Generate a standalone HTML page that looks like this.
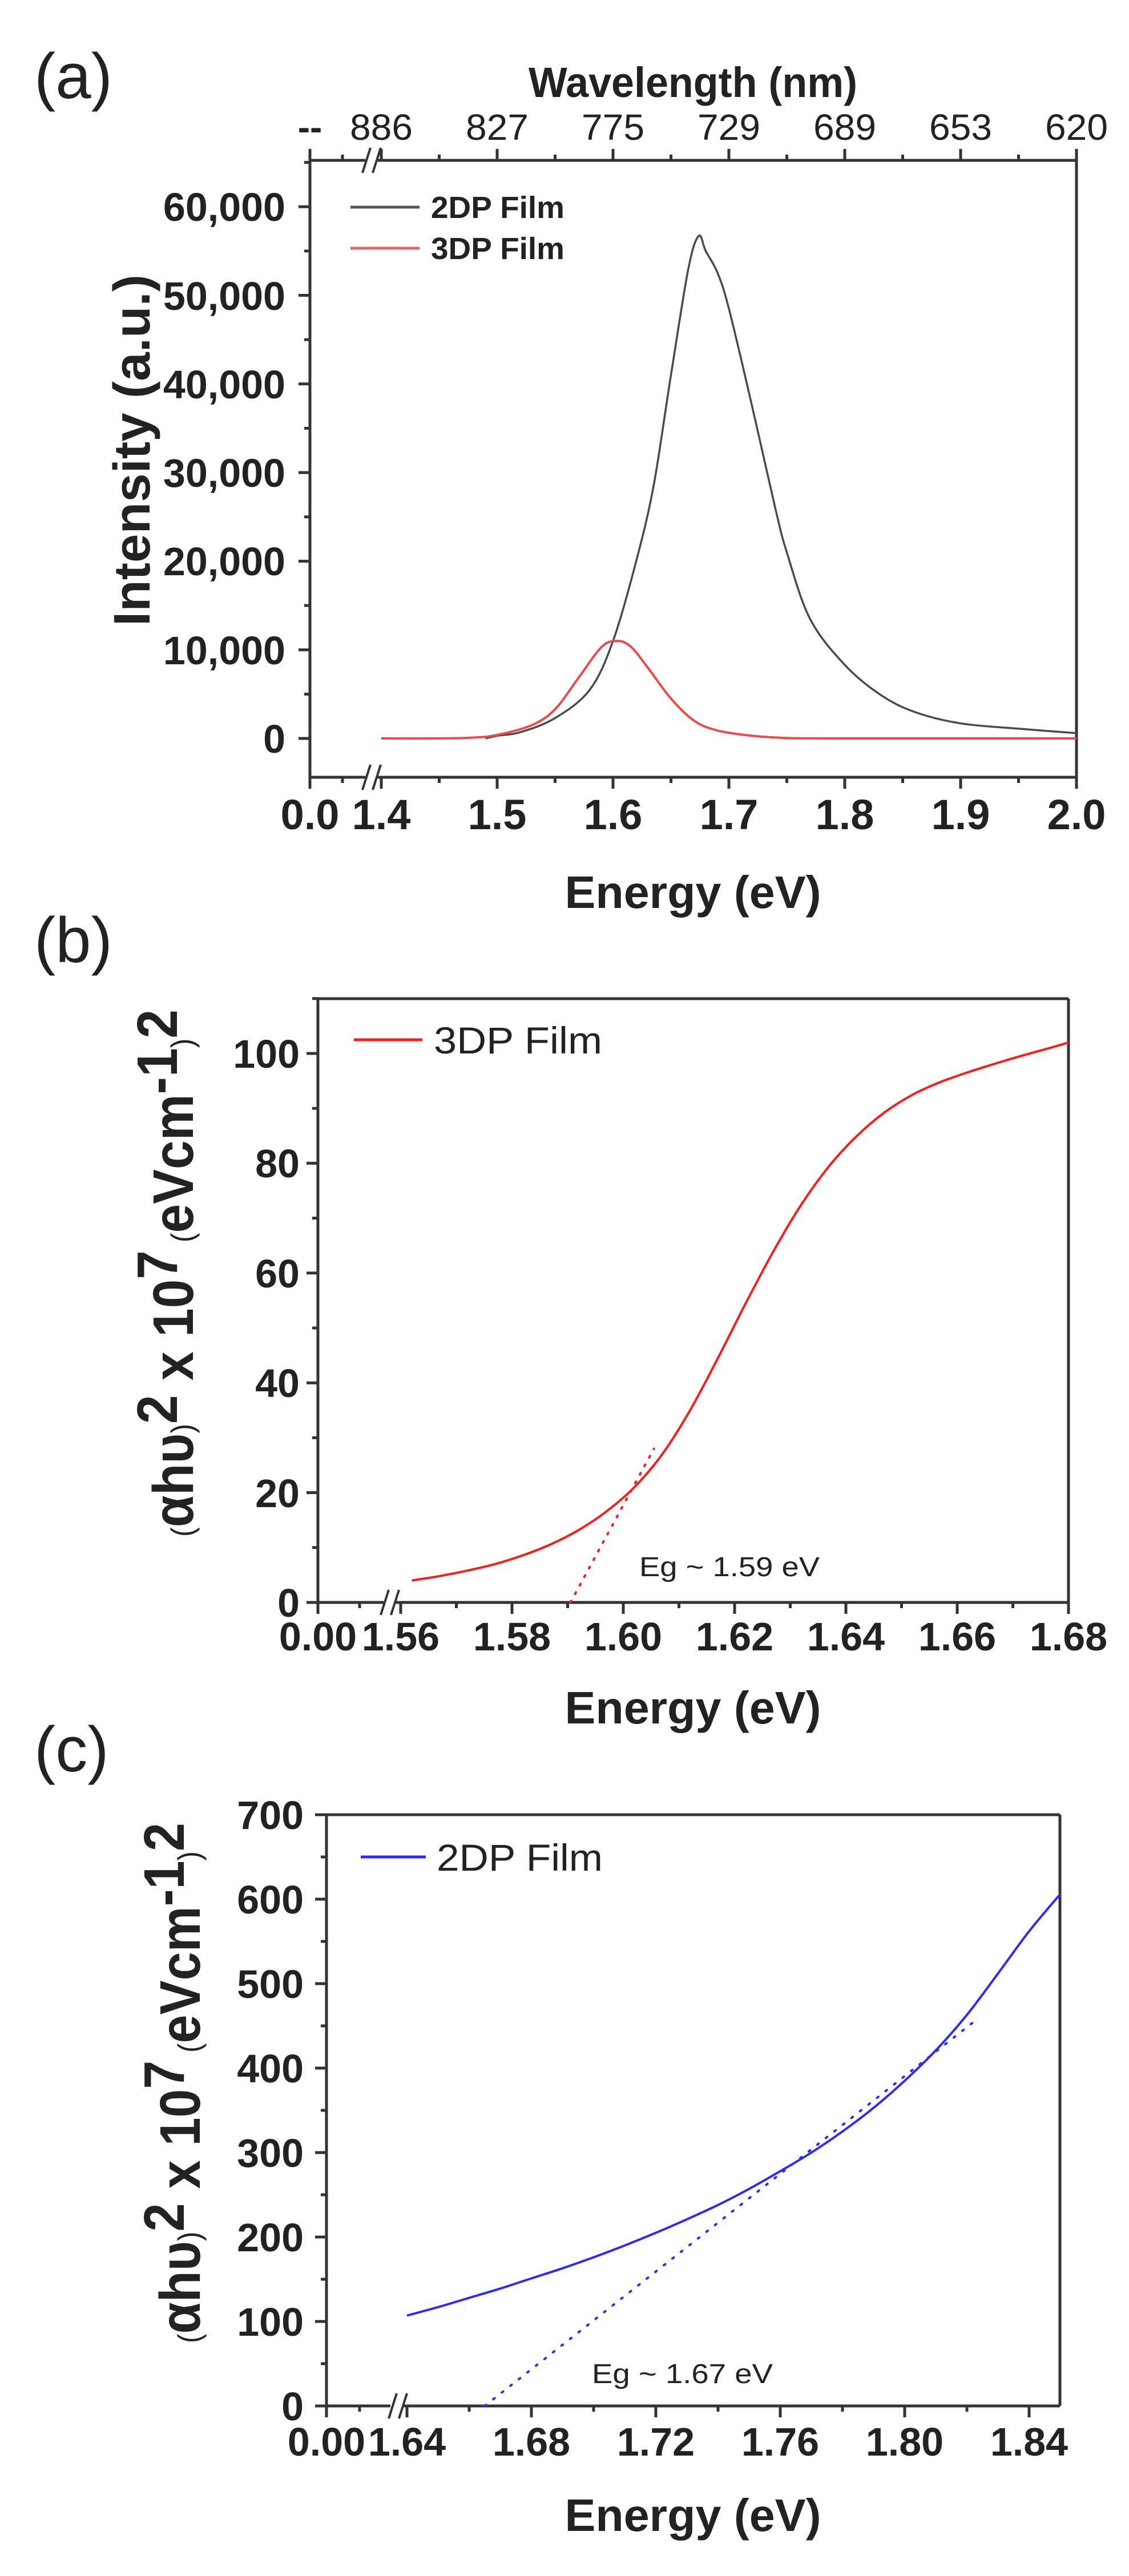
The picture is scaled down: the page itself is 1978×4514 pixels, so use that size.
<!DOCTYPE html>
<html><head><meta charset="utf-8"><style>
html,body{margin:0;padding:0;background:#fff;}
svg{display:block;}
text{font-family:"Liberation Sans",Arial,sans-serif;fill:#222;}
.tk{font-weight:bold;font-size:70px;}
.ti{font-weight:bold;font-size:80px;}
.pl{font-family:"Liberation Sans",sans-serif;font-size:112px;fill:#222;}
</style></head><body>
<svg id="s" width="1978" height="4514" viewBox="0 0 1978 4514" xmlns="http://www.w3.org/2000/svg">
<rect width="1978" height="4514" fill="#fff"/>
<text class="pl" x="60" y="172">(a)</text>
<text class="pl" x="60" y="1686">(b)</text>
<text class="pl" x="60" y="3104">(c)</text>

<text class="ti" x="1214" y="170" text-anchor="middle" textLength="576" lengthAdjust="spacingAndGlyphs" style="font-size:74px">Wavelength (nm)</text>
<g class="tk" text-anchor="middle" style="font-size:64px;font-weight:normal">
<text x="543" y="245" style="font-weight:bold">--</text>
<text x="668" y="245" textLength="110" lengthAdjust="spacingAndGlyphs">886</text>
<text x="871" y="245" textLength="110" lengthAdjust="spacingAndGlyphs">827</text>
<text x="1074" y="245" textLength="110" lengthAdjust="spacingAndGlyphs">775</text>
<text x="1277" y="245" textLength="110" lengthAdjust="spacingAndGlyphs">729</text>
<text x="1480" y="245" textLength="110" lengthAdjust="spacingAndGlyphs">689</text>
<text x="1683" y="245" textLength="110" lengthAdjust="spacingAndGlyphs">653</text>
<text x="1886" y="245" textLength="110" lengthAdjust="spacingAndGlyphs">620</text>
</g>
<g class="tk" text-anchor="end">
<text x="500" y="1319">0</text>
<text x="500" y="1164">10,000</text>
<text x="500" y="1008">20,000</text>
<text x="500" y="853">30,000</text>
<text x="500" y="698">40,000</text>
<text x="500" y="543">50,000</text>
<text x="500" y="387">60,000</text>
</g>
<g class="tk" text-anchor="middle" style="font-size:74px">
<text x="543" y="1453">0.0</text>
<text x="668" y="1453">1.4</text>
<text x="871" y="1453">1.5</text>
<text x="1074" y="1453">1.6</text>
<text x="1277" y="1453">1.7</text>
<text x="1480" y="1453">1.8</text>
<text x="1683" y="1453">1.9</text>
<text x="1886" y="1453">2.0</text>
</g>
<text class="ti" transform="translate(262,789) rotate(-90)" text-anchor="middle" textLength="616" lengthAdjust="spacingAndGlyphs" style="font-size:90px">Intensity (a.u.)</text>
<text class="ti" x="1214" y="1591" text-anchor="middle" textLength="449" lengthAdjust="spacingAndGlyphs">Energy (eV)</text>
<line x1="614" y1="363" x2="735" y2="363" stroke="#555" stroke-width="5"/>
<line x1="614" y1="435" x2="735" y2="435" stroke="#f26060" stroke-width="5"/>
<text x="755" y="382" style="font-weight:bold;font-size:54px" textLength="234" lengthAdjust="spacingAndGlyphs">2DP Film</text>
<text x="755" y="454" style="font-weight:bold;font-size:54px" textLength="234" lengthAdjust="spacingAndGlyphs">3DP Film</text>

<g class="tk" text-anchor="end">
<text x="525" y="2833">0</text>
<text x="525" y="2641">20</text>
<text x="525" y="2448">40</text>
<text x="525" y="2256">60</text>
<text x="525" y="2063">80</text>
<text x="525" y="1871">100</text>
</g>
<g class="tk" text-anchor="middle">
<text x="557" y="2892">0.00</text>
<text x="702" y="2892">1.56</text>
<text x="897" y="2892">1.58</text>
<text x="1092" y="2892">1.60</text>
<text x="1287" y="2892">1.62</text>
<text x="1482" y="2892">1.64</text>
<text x="1677" y="2892">1.66</text>
<text x="1872" y="2892">1.68</text>
</g>
<text class="ti" x="1214" y="3020" text-anchor="middle" textLength="449" lengthAdjust="spacingAndGlyphs">Energy (eV)</text>
<text class="ti" transform="translate(338,2231) rotate(-90)" text-anchor="middle" textLength="924" lengthAdjust="spacingAndGlyphs" style="font-size:100px"><tspan style="font-size:55px;font-weight:normal">(</tspan>αhυ<tspan style="font-size:55px;font-weight:normal">)</tspan><tspan dy="-28">2</tspan><tspan dy="28"> x 10</tspan><tspan dy="-28">7</tspan><tspan dy="28" style="font-size:55px;font-weight:normal"> (</tspan>eVcm<tspan dy="-28">-1</tspan><tspan dy="28" style="font-size:55px;font-weight:normal">)</tspan><tspan dy="-28">2</tspan></text>
<line x1="620" y1="1822" x2="740" y2="1822" stroke="#ff1a1a" stroke-width="5"/>
<text x="760" y="1846" style="font-size:66px" textLength="295" lengthAdjust="spacingAndGlyphs">3DP Film</text>
<text x="1120" y="2762" style="font-size:48px" textLength="316" lengthAdjust="spacingAndGlyphs">Eg ~ 1.59 eV</text>

<g class="tk" text-anchor="end">
<text x="532" y="4241">0</text>
<text x="532" y="4093">100</text>
<text x="532" y="3945">200</text>
<text x="532" y="3797">300</text>
<text x="532" y="3649">400</text>
<text x="532" y="3501">500</text>
<text x="532" y="3353">600</text>
<text x="532" y="3205">700</text>
</g>
<g class="tk" text-anchor="middle">
<text x="572" y="4303">0.00</text>
<text x="713" y="4303">1.64</text>
<text x="931" y="4303">1.68</text>
<text x="1149" y="4303">1.72</text>
<text x="1367" y="4303">1.76</text>
<text x="1585" y="4303">1.80</text>
<text x="1803" y="4303">1.84</text>
</g>
<text class="ti" x="1214" y="4435" text-anchor="middle" textLength="449" lengthAdjust="spacingAndGlyphs">Energy (eV)</text>
<text class="ti" transform="translate(350,3650) rotate(-90)" text-anchor="middle" textLength="912" lengthAdjust="spacingAndGlyphs" style="font-size:100px"><tspan style="font-size:55px;font-weight:normal">(</tspan>αhυ<tspan style="font-size:55px;font-weight:normal">)</tspan><tspan dy="-28">2</tspan><tspan dy="28"> x 10</tspan><tspan dy="-28">7</tspan><tspan dy="28" style="font-size:55px;font-weight:normal"> (</tspan>eVcm<tspan dy="-28">-1</tspan><tspan dy="28" style="font-size:55px;font-weight:normal">)</tspan><tspan dy="-28">2</tspan></text>
<line x1="632" y1="3254" x2="746" y2="3254" stroke="#2a2aff" stroke-width="5"/>
<text x="765" y="3278" style="font-size:66px" textLength="291" lengthAdjust="spacingAndGlyphs">2DP Film</text>
<text x="1037" y="4176" style="font-size:48px" textLength="317" lengthAdjust="spacingAndGlyphs">Eg ~ 1.67 eV</text>

<g id="g"></g>
</svg>
<script>
(function(){
var g=document.getElementById('g'),out='';
function L(x1,y1,x2,y2,c,w,extra){out+='<line x1="'+x1+'" y1="'+y1+'" x2="'+x2+'" y2="'+y2+'" stroke="'+(c||'#333')+'" stroke-width="'+(w||5)+'" '+(extra||'')+'/>';}
function path(pts,c,w,extra){
  var d='M'+pts[0][0].toFixed(1)+','+pts[0][1].toFixed(1);
  for(var i=0;i<pts.length-1;i++){
    var p0=pts[Math.max(i-1,0)],p1=pts[i],p2=pts[i+1],p3=pts[Math.min(i+2,pts.length-1)];
    var c1x=p1[0]+(p2[0]-p0[0])/6,c1y=p1[1]+(p2[1]-p0[1])/6,c2x=p2[0]-(p3[0]-p1[0])/6,c2y=p2[1]-(p3[1]-p1[1])/6;
    d+=' C'+c1x.toFixed(1)+','+c1y.toFixed(1)+' '+c2x.toFixed(1)+','+c2y.toFixed(1)+' '+p2[0].toFixed(1)+','+p2[1].toFixed(1);
  }
  out+='<path d="'+d+'" fill="none" stroke="'+c+'" stroke-width="'+w+'" stroke-linejoin="round" '+(extra||'')+'/>';
}
function brk(x,y){L(x-16,y+22,x-2,y-22,'#333',4);L(x+2,y+22,x+16,y-22,'#333',4);}
var aL=543,aR=1886,aT=281,aB=1362;
function ay(v){return 1294-v*155.3/10000;}
L(aL,aT,aR,aT);L(aL,aB,aR,aB);L(aL,aT,aL,aB);L(aR,aT,aR,aB);
for(var v=0;v<=65000;v+=5000){var y=ay(v);if(y<aT)break;var maj=v%10000==0;L(aL-(maj?20:10),y,aL,y);}
var xs=[543];for(var e=1.4;e<=2.0001;e+=0.05)xs.push([668+(e-1.4)*2030,Math.round(e*100)%10==0]);
L(aL,aB,aL,aB+20);L(aL,aT,aL,aT-20);
for(var i=1;i<xs.length;i++){var x=xs[i][0],m=xs[i][1];L(x,aB,x,aB+(m?20:10));L(x,aT,x,aT-(m?20:10));}
L(600,aB,600,aB+10);L(600,aT,600,aT-10);
out+='<rect x="640" y="'+(aB-8)+'" width="22" height="16" fill="#fff"/><rect x="640" y="'+(aT-8)+'" width="22" height="16" fill="#fff"/>';
brk(651,aB);brk(651,aT);
var d2=[[1.49,0],[1.5,300],[1.52,700],[1.55,2300],[1.58,5500],[1.6,11000],[1.62,20000],[1.635,28500],[1.65,41000],[1.665,53000],[1.674,56700],[1.68,55000],[1.69,52600],[1.70,48500],[1.72,37500],[1.74,26000],[1.75,21000],[1.77,13500],[1.8,8300],[1.83,5000],[1.86,3000],[1.9,1700],[1.95,1100],[2.0,600]];
var d3=[[1.4,0],[1.45,0],[1.48,100],[1.5,400],[1.53,1500],[1.55,3300],[1.57,6800],[1.59,10300],[1.603,11000],[1.615,10400],[1.63,8000],[1.65,4500],[1.67,2000],[1.69,900],[1.72,300],[1.75,50],[1.8,0],[2.0,0]];
path(d2.map(function(p){return [668+(p[0]-1.4)*2030,ay(p[1])];}),'#4a4a4a',3.5);
path(d3.map(function(p){return [668+(p[0]-1.4)*2030,ay(p[1])];}),'#f04848',4);
var bL=557,bR=1872,bT=1750,bB=2808;
function bx(e){return 702+(e-1.56)*9750;}function by(v){return 2808-v*9.62;}
L(bL,bT,bR,bT);L(bL,bB,bR,bB);L(bL,bT,bL,bB);L(bR,bT,bR,bB);
for(var v=0;v<=110;v+=10){L(bL-(v%20==0?20:10),by(v),bL,by(v));}
L(bL,bB,bL,bB+20);L(630,bB,630,bB+10);
for(var k=0;k<=12;k++){var x=bx(1.56+k*0.01);L(x,bB,x,bB+(k%2==0?20:10));}
out+='<rect x="672" y="'+(bB-8)+'" width="22" height="16" fill="#fff"/>';brk(683,bB);
var db=[[1.562,4],[1.567,4.8],[1.572,5.8],[1.577,7],[1.582,8.6],[1.587,10.6],[1.592,13.2],[1.597,16.6],[1.602,21],[1.607,27],[1.612,35],[1.617,44.5],[1.622,54.5],[1.627,64],[1.632,72.5],[1.637,79.5],[1.642,85],[1.647,89.3],[1.652,92.5],[1.657,94.8],[1.662,96.6],[1.667,98.2],[1.672,99.7],[1.677,101.1],[1.68,102]];
path(db.map(function(p){return [bx(p[0]),by(p[1])];}),'#ff1a1a',4);
L(bx(1.5905),by(0),bx(1.6055),by(28),'#ff1a1a',4,'stroke-dasharray="3 14" stroke-linecap="round"');
var cL=572,cR=1857,cT=3180,cB=4216;
function cx(e){return 713+(e-1.64)*5450;}function cy(v){return 4216-v*1.48;}
L(cL,cT,cR,cT);L(cL,cB,cR,cB);L(cL,cT,cL,cB);L(cR,cT,cR,cB);
for(var v=0;v<=700;v+=50){L(cL-(v%100==0?20:10),cy(v),cL,cy(v));}
L(cL,cB,cL,cB+20);L(630,cB,630,cB+10);
for(var k=0;k<=10;k++){var x=cx(1.64+k*0.02);if(x>cR+1)break;L(x,cB,x,cB+(k%2==0?20:10));}
out+='<rect x="684" y="'+(cB-8)+'" width="24" height="16" fill="#fff"/>';brk(697,cB);
var dc=[[1.64,107],[1.65,117],[1.66,128],[1.67,139],[1.68,151],[1.69,163],[1.70,176],[1.71,190],[1.72,205],[1.73,221],[1.74,238],[1.75,257],[1.76,278],[1.77,300],[1.78,325],[1.79,353],[1.80,385],[1.81,421],[1.82,463],[1.83,512],[1.84,562],[1.85,606]];
path(dc.map(function(p){return [cx(p[0]),cy(p[1])];}),'#2a2aff',4);
L(cx(1.665),cy(0),cx(1.824),cy(460),'#2a2aff',4,'stroke-dasharray="3 16" stroke-linecap="round"');
g.innerHTML=out;
})();
</script>
</body></html>
